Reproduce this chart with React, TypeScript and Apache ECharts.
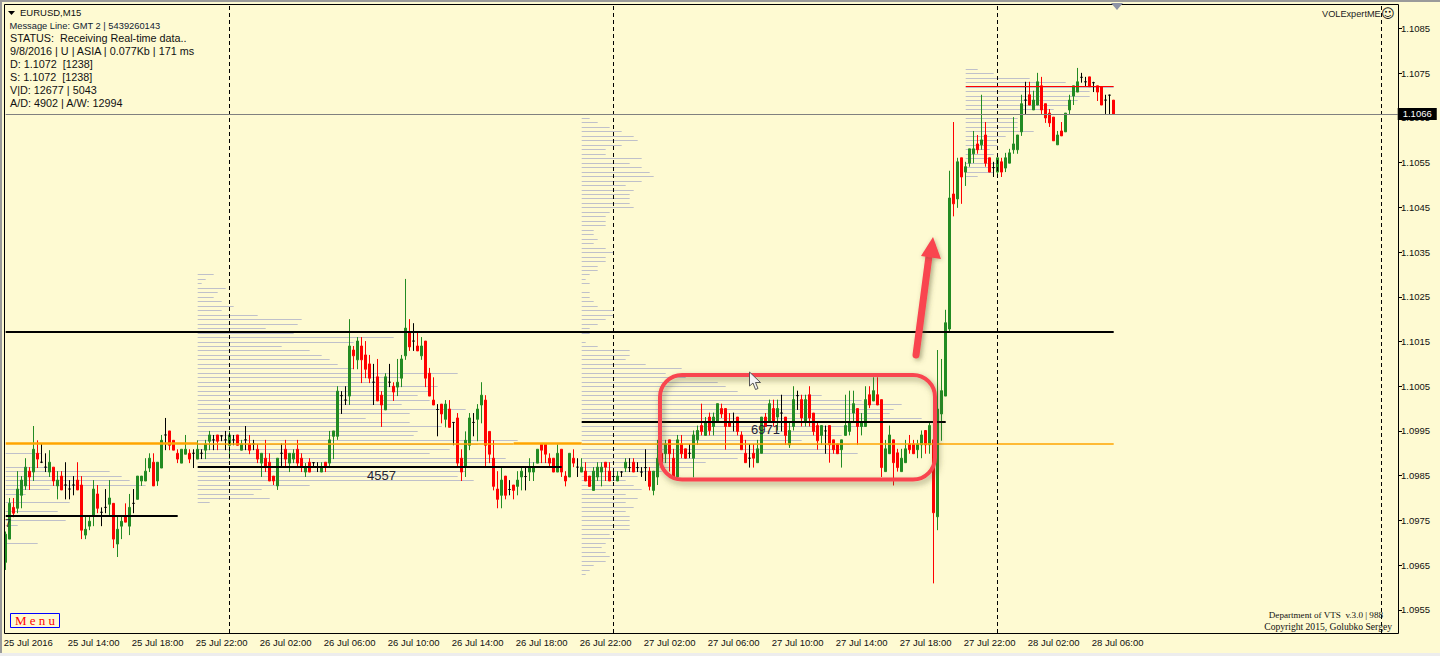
import React, { useEffect, useRef } from "react";
import * as echarts from "echarts";

// Prices are written as points above 1.09000 (1 point = 0.00001). Each bar: [open, close, low, high]
const BASE = 1.09;
const jul25Bars = [
[656,719,639,725],[708,788,708,800],[779,766,757,800],[777,820,766,860],[806,840,777,849],[827,869,818,889],[860,847,818,869],[858,909,838,961],
[900,887,867,929],[880,880,878,921],[869,869,858,900],[858,880,847,907],[869,838,827,869],[827,840,797,860],[849,818,818,860],[829,829,797,880],
[820,820,797,840],[829,829,806,849],[840,818,818,880],[829,728,708,849],[717,730,708,759],[737,748,728,759],[759,820,737,840],[809,777,766,829],
[768,768,737,779],[779,779,766,820],[786,800,759,840],[788,708,688,788],[697,730,668,759],[737,748,708,759],[759,746,746,788],[737,779,717,809],
[788,788,766,820],[797,849,797,849],[838,849,827,849],[838,860,838,889],[867,889,858,900],[880,827,827,900],[838,880,827,880],[867,929,867,941],
[941,941,907,979],[950,918,907,950],[929,907,907,929],[900,887,878,909],[878,909,878,909],[898,909,898,941],[900,887,878,909],[900,900,867,909],
[887,909,887,929],[900,900,887,909],[907,921,887,930],[927,941,907,950],[930,930,907,941],[941,927,907,941],[939,939,927,941],[930,930,907,950],
];
const jul26Bars = [
[918,941,887,950],[930,930,918,941],[941,918,918,941],[907,921,907,930],[930,930,907,961],[921,907,898,941],[921,921,907,930],[909,887,878,921],
[878,900,847,900],[889,869,858,930],[880,838,838,900],[849,838,829,849],[827,889,818,889],[900,900,869,922],[909,887,869,930],[878,900,858,900],
[887,900,878,909],[909,878,869,930],[889,869,858,900],[858,869,847,878],[880,858,858,889],[879,879,869,880],[869,869,858,880],[858,869,858,880],
[880,869,858,880],[878,930,869,950],[938,950,887,950],[938,1039,930,1050],[1029,1029,988,1039],[1019,1019,1008,1050],[1028,1140,1008,1200],[1131,1118,1088,1140],
[1109,1151,1088,1160],[1140,1109,1057,1160],[1120,1088,1068,1151],[1100,1068,1057,1120],[1059,1059,1008,1100],[1071,1017,1017,1111],[1030,1008,959,1039],[997,1071,997,1079],
[1059,1059,1048,1100],[1050,1037,1017,1059],[1048,1059,1028,1111],[1068,1111,1048,1120],[1118,1180,1109,1290],[1171,1138,1129,1200],[1151,1151,1129,1191],[1140,1129,1129,1171],
[1118,1140,1109,1160],[1151,1068,1048,1151],[1079,1028,1028,1091],[1019,1008,1008,1070],[998,998,938,1010],[1010,988,967,1010],[976,1010,958,1019],[999,958,958,1019],
[969,969,918,969],[979,878,869,990],[889,858,838,909],[869,929,847,949],[918,979,907,990],[969,969,938,990],[976,999,927,1010],[1008,1030,967,1059],
[1019,918,869,1030],[949,898,878,949],[889,826,817,929],[820,797,777,860],[806,840,777,869],[849,806,797,849],[819,819,806,840],[829,817,797,829],
[826,840,806,860],[847,860,817,869],[848,848,817,869],[858,869,838,889],[858,869,838,880],[878,909,878,909],[920,907,878,920],[920,898,878,920],
[889,878,869,900],[889,858,858,889],[858,900,858,920],[909,858,847,909],[849,838,826,860],[847,900,847,900],[889,878,869,909],[869,869,847,889],
[858,869,858,889],[860,838,838,880],[849,826,826,849],[817,860,817,869],[847,869,838,880],[858,869,826,880],[880,869,838,880],[860,838,838,880],
];
const jul27Bars = [
[848,848,838,860],[838,849,838,860],[858,858,847,860],[867,880,858,889],[868,868,858,889],[880,858,858,889],[868,868,858,880],[858,858,847,869],
[868,868,838,909],[860,826,817,869],[817,860,806,860],[847,889,829,930],[900,880,878,900],[899,921,878,930],[930,899,859,930],[889,847,847,910],
[847,930,844,941],[921,899,889,941],[910,889,888,910],[900,900,889,921],[889,941,846,951],[930,951,919,962],[962,949,940,1011],[940,970,940,981],
[981,951,940,991],[960,981,940,991],[971,1011,971,1011],[1000,988,979,1011],[1000,960,908,1000],[971,960,960,990],[970,970,949,991],[981,949,940,981],
[941,908,908,949],[900,879,879,930],[889,889,868,921],[900,889,868,921],[879,910,879,930],[900,981,900,981],[981,960,960,990],[971,1011,971,1020],
[1000,971,960,1020],[981,1000,951,1020],[990,990,949,1031],[981,940,919,981],[919,951,912,971],[960,1020,951,1050],[1029,1029,997,1040],[1020,979,960,1031],
[971,1020,960,1031],[1031,979,960,1050],[990,949,940,990],[962,928,908,970],[940,962,919,962],[950,950,899,962],[962,919,879,962],[930,908,899,930],
[921,899,899,921],[908,930,868,930],[940,962,940,1031],[949,970,940,1040],[990,1011,971,1040],[1000,960,919,1000],[960,970,940,990],[960,1020,960,1050],
[1031,1008,1001,1050],[1017,1040,1017,1070],[1031,1008,1008,1070],[1020,868,847,1020],[859,910,859,930],[899,941,899,962],[930,879,828,930],[901,868,859,910],
[859,889,859,910],[879,910,879,930],[921,908,899,941],[921,899,899,930],[908,921,889,930],[919,941,889,951],[951,919,899,951],[919,962,899,971],
[930,767,609,941],[758,999,728,1131],[988,1040,928,1111],[1028,1192,1028,1221],[1178,1471,1169,1532],[1480,1458,1430,1641],[1469,1552,1449,1561],[1561,1518,1458,1561],
[1529,1541,1498,1552],[1549,1581,1541,1581],[1570,1581,1549,1621],[1592,1579,1570,1612],[1590,1601,1579,1702],[1612,1549,1541,1641],[1561,1529,1529,1561],[1539,1539,1518,1552],
];
const jul28Bars = [
[1529,1561,1518,1561],[1552,1529,1518,1561],[1538,1561,1529,1572],[1549,1572,1549,1581],[1579,1592,1570,1652],[1579,1612,1570,1612],[1619,1682,1610,1702],[1690,1690,1659,1731],
[1702,1679,1679,1731],[1668,1690,1668,1711],[1679,1731,1679,1751],[1722,1668,1659,1742],[1682,1650,1639,1682],[1661,1639,1630,1670],[1652,1599,1599,1652],[1590,1612,1590,1621],
[1621,1610,1610,1641],[1619,1661,1619,1661],[1668,1690,1659,1702],[1699,1722,1679,1722],[1708,1731,1708,1762],[1741,1741,1729,1751],[1731,1731,1720,1742],[1742,1720,1720,1742],
[1729,1729,1708,1731],[1722,1708,1688,1722],[1720,1679,1679,1720],[1690,1690,1659,1702],[1701,1701,1659,1702],[1690,1659,1659,1690],
];

const tickLabels = ["25 Jul 2016","25 Jul 14:00","25 Jul 18:00","25 Jul 22:00","26 Jul 02:00","26 Jul 06:00","26 Jul 10:00","26 Jul 14:00","26 Jul 18:00","26 Jul 22:00","27 Jul 02:00","27 Jul 06:00","27 Jul 10:00","27 Jul 14:00","27 Jul 18:00","27 Jul 22:00","28 Jul 02:00","28 Jul 06:00"];
const priceTicks = [1.0955,1.0965,1.0975,1.0985,1.0995,1.1005,1.1015,1.1025,1.1035,1.1045,1.1055,1.1065,1.1075,1.1085];
const daySeparators = [56,152,248,344];

// Volume profiles: first bar, top price (points), then one length (in bars) per 10 points going down
const profileABar = 0, profileATop = 900;
const profileA = [9,0,0,11,26,29,31,35,11,5,0,16,0,13,0,15,3,0,0,0,8];
const profileBBar = 48, profileBTop = 1300;
const profileB = [4,2,1,7,5,4,6,9,6,15,26,25,17,24,49,39,21,28,31,33,35,39,65,51,47,60,58,55,58,51,67,53,42,53,61,55,54,80,70,63,58,77,89,91,67,65,69,28,16,14,18,3];
const profileCBar = 144, profileCTop = 1650;
const profileC = [2,4,7,10,13,14,10,6,6,15,12,15,17,18,15,11,13,12,12,12,13,7,6,6,6,3,3,4,3,6,8,6,6,4,4,2,1,2,0,2,2,3,4,8,8,6,4,2,2,0,1,4,12,12,11,16,25,21,26,34,36,39,60,70,80,78,77,85,91,71,59,65,55,67,65,69,39,31,28,20,14,11,13,15,11,14,11,13,11,12,12,12,12,7,8,6,5,6,7,6,3,2,1];
const profileDBar = 240, profileDTop = 1760;
const profileD = [3,7,16,25,37,31,31,28,26,22,20,13,13,13,17,10,8,8,6,7,6,8,8,7,3];

// Levels: [first bar, last bar, price]
const blackLevels = [[0,277,1.10172],[0,43,1.0976],[48,139,1.09869],[144,235,1.0997]];
const orangeThick = [[0,48,1.09922],[127,144,1.09922]];
const orangeThin = [[48,127,1.09922],[144,277,1.09922]];
const redLevel = [[240,277,1.10721]];
const currentPrice = 1.10659;

const infoLines = ["Message Line: GMT 2 | 5439260143","STATUS:  Receiving Real-time data..","9/8/2016 | U | ASIA | 0.077Kb | 171 ms","D: 1.1072  [1238]","S: 1.1072  [1238]","V|D: 12677 | 5043","A/D: 4902 | A/W: 12994"];

const allBars = [...jul25Bars, ...jul26Bars, ...jul27Bars, ...jul28Bars];
const candleData = allBars.map((b) => b.map((v) => BASE + v / 100000));
const categories = Array.from({ length: 349 }, (_, i) => (i % 16 === 0 && tickLabels[i / 16]) || "");
const profileData = ([[profileABar,profileATop,profileA],[profileBBar,profileBTop,profileB],[profileCBar,profileCTop,profileC],[profileDBar,profileDTop,profileD]] as any[]).flatMap(([bar, top, lens]) =>
  lens.map((len: number, k: number) => [bar, BASE + (top - k * 10) / 100000, len]).filter((r: number[]) => r[2] > 0));

const segs = (list: number[][], color: string, width: number) =>
  list.map(([a, b, p]) => [{ coord: [a, p], lineStyle: { color, width, type: "solid" } }, { coord: [b, p] }]);

const sans = '"Liberation Sans"';
const txt = (x: number, y: number, text: string, font: string, fill = "#111", align = "left") => ({
  type: "text", z: 20, silent: true, style: { x, y, text, font, fill, align, verticalAlign: "middle" },
});

export default function App() {
  const ref = useRef<HTMLDivElement>(null);
  useEffect(() => {
    const chart = echarts.init(ref.current!, null, { renderer: "svg" });
    chart.setOption({
      animation: false,
      backgroundColor: "#FEFAD2",
      grid: { left: 3.7, top: 4, width: 1396, height: 629, containLabel: false },
      xAxis: {
        type: "category", data: categories, boundaryGap: true,
        axisLine: { show: false },
        axisTick: { alignWithLabel: true, length: 3, lineStyle: { color: "#000" }, interval: (i: number) => i % 16 === 0 && i <= 272 },
        axisLabel: { interval: 15, align: "left", margin: 4, padding: [0, 0, 0, -2], fontFamily: "Liberation Sans", fontSize: 9.5, color: "#111", hideOverlap: false },
        splitLine: { show: false },
      },
      yAxis: {
        type: "value", position: "right", offset: -1.7, min: 1.09498, max: 1.10905, scale: true,
        axisLine: { show: false },
        axisTick: { show: true, length: 4, lineStyle: { color: "#000" }, customValues: priceTicks },
        axisLabel: { margin: 3, fontFamily: "Liberation Sans", fontSize: 9.5, color: "#111", customValues: priceTicks, formatter: (v: number) => v.toFixed(4) },
        splitLine: { show: false },
      },
      series: [
        {
          type: "custom", z: 1, silent: true, clip: false,
          data: profileData,
          encode: { x: 0, y: 1 },
          renderItem: (_p: any, api: any) => {
            const a = api.coord([api.value(0), api.value(1)]);
            const b = api.coord([api.value(0) + api.value(2), api.value(1)]);
            const y = Math.round(a[1]) + 0.5;
            return { type: "line", shape: { x1: a[0], y1: y, x2: b[0], y2: y }, style: { stroke: "#BFC0CA", lineWidth: 1 } };
          },
          markLine: {
            silent: true, symbol: "none", label: { show: false }, animation: false,
            data: [...segs(orangeThick, "#FFA500", 2.5), ...segs(orangeThin, "#FFA500", 1.5)],
          },
        },
        {
          type: "candlestick", z: 3, silent: true, barWidth: 2,
          data: candleData,
          itemStyle: { color: "#228B22", color0: "#FF0000", borderColor: "#228B22", borderColor0: "#FF0000", borderColorDoji: "#000000", borderWidth: 1 },
          markLine: {
            silent: true, symbol: "none", animation: false, label: { show: false },
            data: [
              ...daySeparators.map((b) => ({ xAxis: b, lineStyle: { color: "#000", width: 1, type: [4, 3] } })),
              ...segs(blackLevels, "#000", 2),
              ...segs(redLevel, "#FF0000", 1.2),
              [
                {
                  coord: [0, currentPrice], lineStyle: { color: "#808080", width: 1, type: "solid" },
                  label: { show: true, position: "end", distance: 0, formatter: currentPrice.toFixed(4), backgroundColor: "#000", color: "#fff", fontFamily: "Liberation Sans", fontSize: 9.5, padding: [1, 5, 1, 5] },
                },
                { coord: [348, currentPrice] },
              ],
            ],
          },
        },
      ],
      graphic: [
        { type: "rect", z: 0, silent: true, shape: { x: 0, y: 0, width: 1440, height: 2 }, style: { fill: "#9A9A9A" } },
        { type: "rect", z: 0, silent: true, shape: { x: 0, y: 0, width: 2, height: 656 }, style: { fill: "#9A9A9A" } },
        { type: "rect", z: 0, silent: true, shape: { x: 0, y: 653, width: 1440, height: 3 }, style: { fill: "#EDEDED" } },
        { type: "rect", z: 15, silent: true, shape: { x: 4.5, y: 4.5, width: 1394, height: 629 }, style: { fill: "none", stroke: "#000", lineWidth: 1 } },
        { type: "polygon", z: 16, silent: true, shape: { points: [[1111, 3], [1123, 3], [1117, 10]] }, style: { fill: "#8E94A6" } },
        // annotation rectangle and arrow
        { type: "rect", z: 18, silent: true, shape: { x: 660, y: 375, width: 275, height: 104.5, r: 22 }, style: { fill: "none", stroke: "#F9444F", lineWidth: 4, shadowBlur: 6, shadowColor: "rgba(90,90,50,0.55)", shadowOffsetX: 2, shadowOffsetY: 3 } },
        { type: "line", z: 18, silent: true, shape: { x1: 916, y1: 355, x2: 929, y2: 256 }, style: { stroke: "#F9444F", lineWidth: 7, lineCap: "round", shadowBlur: 5, shadowColor: "rgba(90,90,50,0.5)", shadowOffsetX: 2, shadowOffsetY: 2 } },
        { type: "polygon", z: 18, silent: true, shape: { points: [[933, 237], [921, 256], [941, 259]] }, style: { fill: "#F9444F", shadowBlur: 4, shadowColor: "rgba(90,90,50,0.4)", shadowOffsetX: 1, shadowOffsetY: 1 } },
        // mouse pointer
        { type: "polygon", z: 19, silent: true, shape: { points: [[749.5, 372], [749.5, 386], [753, 383], [755.5, 389.5], [758, 388.5], [755.5, 382.5], [760.5, 382.5]] }, style: { fill: "#F4F4F4", stroke: "#555", lineWidth: 1 } },
        // header
        { type: "polygon", z: 20, silent: true, shape: { points: [[8, 11], [15, 11], [11.5, 15]] }, style: { fill: "#000" } },
        txt(20, 12.5, "EURUSD,M15", `9.5px ${sans}`),
        txt(9.5, 25.5, infoLines[0], `9.3px ${sans}`, "#123"),
        ...infoLines.slice(1).map((t, k) => txt(10, 38 + k * 13, t, `10.8px ${sans}`)),
        txt(367, 475, "4557", `13px ${sans}`, "#223"),
        txt(751, 429, "6971", `13px ${sans}`, "#223"),
        txt(5, 523, "7", `11px ${sans}`, "#223"),
        txt(1322, 13.5, "VOLExpertME", `9.2px ${sans}`, "#222"),
        txt(1381, 13.5, "\u263A", `13px "DejaVu Sans"`, "#111"),
        txt(1383, 615, "Department of VTS  v.3.0 | 988", `9.1px "Liberation Serif"`, "#111", "right"),
        txt(1392, 626, "Copyright 2015, Golubko Sergey", `9.6px "Liberation Serif"`, "#111", "right"),
        // menu button
        { type: "rect", z: 20, silent: true, shape: { x: 10.5, y: 613.5, width: 49, height: 14 }, style: { fill: "#FEFAD2", stroke: "#0000FF", lineWidth: 1 } },
        { type: "text", z: 21, silent: true, style: { x: 35, y: 620.5, text: "M e n u", font: '13px "Liberation Serif"', fill: "#FF0000", align: "center", verticalAlign: "middle" } },
      ],
    });
    return () => chart.dispose();
  }, []);
  return <div ref={ref} style={{ position: "fixed", left: 0, top: 0, width: 1440, height: 656 }} />;
}
